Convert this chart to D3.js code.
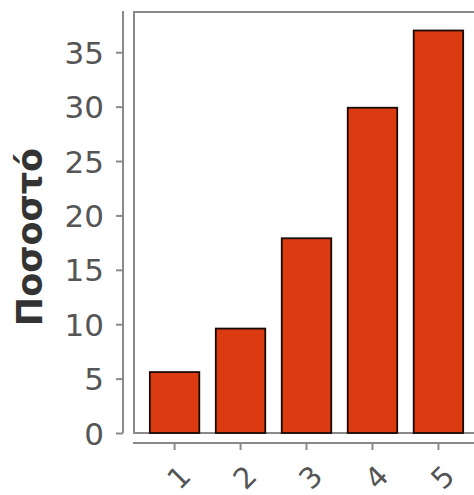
<!DOCTYPE html>
<html>
<head>
<meta charset="utf-8">
<script src="https://cdn.jsdelivr.net/npm/d3@7"></script>
<style>
  body { margin: 0; background: #fff; }
  svg { display: block; }
</style>
</head>
<body>
<div id="chart"></div>
<script>
// data
var categories = ["1", "2", "3", "4", "5"];
var values = [5.6, 9.6, 17.9, 29.9, 37.0];
var yTicks = [0, 5, 10, 15, 20, 25, 30, 35];
var yLabel = "Ποσοστό";

var W = 474, H = 495;
var frame = {left: 134, top: 12, right: 479, bottom: 433};

var svg = d3.select("#chart").append("svg")
  .attr("width", W)
  .attr("height", H);

var x = d3.scaleBand()
  .domain(categories)
  .range([frame.left, frame.right])
  .paddingInner(0.25)
  .paddingOuter(0.24);

var y = d3.scaleLinear()
  .domain([0, 38.7])
  .range([frame.bottom, frame.top]);

// plot frame
svg.append("rect")
  .attr("x", frame.left)
  .attr("y", frame.top)
  .attr("width", frame.right - frame.left)
  .attr("height", frame.bottom - frame.top)
  .attr("fill", "none")
  .attr("stroke", "#8a8a8a")
  .attr("stroke-width", 2);

// bars
svg.append("g")
  .selectAll("rect")
  .data(values)
  .enter().append("rect")
    .attr("x", function(d, i) { return x(categories[i]); })
    .attr("y", function(d) { return y(d); })
    .attr("width", x.bandwidth())
    .attr("height", function(d) { return y(0) - y(d); })
    .attr("fill", "#dc3a10")
    .attr("stroke", "#1a0a06")
    .attr("stroke-width", 1.8);

// left axis, offset from frame
var yAxis = svg.append("g")
  .attr("transform", "translate(123,0)")
  .call(d3.axisLeft(y).tickValues(yTicks).tickSize(7).tickPadding(12));
yAxis.select(".domain").attr("d", "M0," + (frame.top - 1) + "V" + frame.bottom);

// bottom axis, offset from frame
var xAxis = svg.append("g")
  .attr("transform", "translate(0,443)")
  .call(d3.axisBottom(x).tickSize(7).tickSizeOuter(0));
xAxis.select(".domain").attr("d", "M" + (frame.left - 1) + ",0H" + W);

svg.selectAll(".domain, .tick line")
  .attr("stroke", "#8a8a8a")
  .attr("stroke-width", 2);

yAxis.selectAll("text")
  .attr("fill", "#555")
  .style("font-family", "DejaVu Sans")
  .style("font-size", "31px")
  .attr("dy", "0.36em");

xAxis.selectAll("text")
  .attr("fill", "#555")
  .style("font-family", "DejaVu Sans")
  .style("font-size", "29px")
  .attr("y", 0)
  .attr("dy", "0.36em")
  .attr("text-anchor", "middle")
  .attr("transform", "translate(4,34) rotate(-45)");

// y label
svg.append("text")
  .attr("transform", "translate(42,237) rotate(-90)")
  .attr("text-anchor", "middle")
  .attr("fill", "#333")
  .style("font-family", "DejaVu Sans")
  .style("font-weight", "bold")
  .style("font-size", "35px")
  .text(yLabel);
</script>
</body>
</html>
